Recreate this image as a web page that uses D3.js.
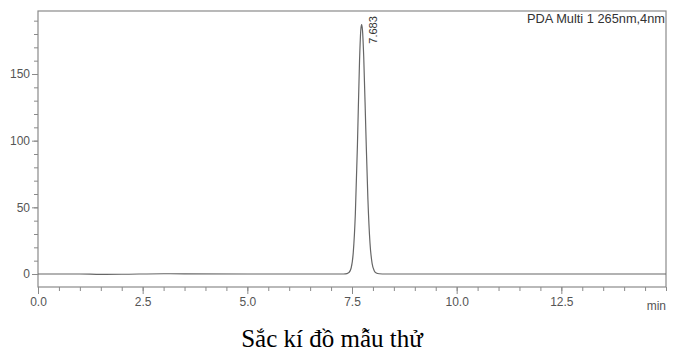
<!DOCTYPE html>
<html>
<head>
<meta charset="utf-8">
<script src="https://cdn.jsdelivr.net/npm/d3@7"></script>
<style>
body { margin: 0; background: #fff; }
</style>
</head>
<body>
<svg width="685" height="352"></svg>
<script>
// chromatogram (time in min, signal in mAU)
var times  = [0, 1.0, 1.5, 2.0, 3.0, 3.5, 5.0, 7.0, 7.30, 7.38, 7.43, 7.48, 7.53, 7.58, 7.63, 7.68, 7.71, 7.73, 7.75, 7.78, 7.83, 7.88, 7.93, 7.98, 8.03, 8.08, 8.15, 8.30, 9.0, 12.0, 15.0];
var signal = [0, 0, -0.3, -0.2, 0.2, 0.1, 0, 0, 0, 0.3, 1.2, 4.5, 16, 45, 97, 160, 183, 187, 183, 163, 108, 56, 23, 8, 2.5, 0.8, 0.2, 0, 0, 0, 0];
var peakTime = 7.73, peakHeight = 187, peakLabel = "7.683";
var xMajor = [0, 2.5, 5, 7.5, 10, 12.5];
var yMajor = [0, 50, 100, 150];
var detector = "PDA Multi 1 265nm,4nm";
var caption = "Sắc kí đồ mẫu thử";

var svg = d3.select("svg");
var plotL = 38, plotR = 666, plotT = 11, plotB = 287;

var x = d3.scaleLinear().domain([0, 15]).range([plotL, plotR]);
var y = d3.scaleLinear().domain([-9.75, 197.25]).range([plotB, plotT]);

var grey = "#8a8a8a", ink = "#555";

// frame
svg.append("rect")
   .attr("x", plotL).attr("y", plotT)
   .attr("width", plotR - plotL).attr("height", plotB - plotT)
   .attr("fill", "none").attr("stroke", grey).attr("stroke-width", 1.2);

// y axis: minor then major
var yMinor = d3.range(0, 200, 10);
svg.append("g")
   .attr("transform", "translate(" + plotL + ",0)")
   .call(d3.axisLeft(y).tickValues(yMinor).tickSize(4).tickFormat(""))
   .call(function(g){ g.select(".domain").remove(); g.selectAll("line").attr("stroke", grey); });
svg.append("g")
   .attr("transform", "translate(" + plotL + ",0)")
   .call(d3.axisLeft(y).tickValues(yMajor).tickSize(6).tickPadding(2).tickFormat(d3.format("d")))
   .call(function(g){
     g.select(".domain").remove();
     g.selectAll("line").attr("stroke", grey);
     g.selectAll("text").attr("fill", ink).style("font", "12px 'Liberation Sans', Arial, sans-serif");
   });

// x axis
var xMinor = d3.range(0, 15.01, 0.5);
svg.append("g")
   .attr("transform", "translate(0," + plotB + ")")
   .call(d3.axisBottom(x).tickValues(xMinor).tickSize(4).tickFormat(""))
   .call(function(g){ g.select(".domain").remove(); g.selectAll("line").attr("stroke", grey); });
svg.append("g")
   .attr("transform", "translate(0," + plotB + ")")
   .call(d3.axisBottom(x).tickValues(xMajor).tickSize(7).tickPadding(3).tickFormat(d3.format(".1f")))
   .call(function(g){
     g.select(".domain").remove();
     g.selectAll("line").attr("stroke", grey);
     g.selectAll("text").attr("fill", ink).style("font", "12px 'Liberation Sans', Arial, sans-serif");
   });

svg.append("text")
   .attr("x", plotR).attr("y", 310)
   .attr("text-anchor", "end")
   .attr("fill", ink)
   .style("font", "12px 'Liberation Sans', Arial, sans-serif")
   .text("min");

// trace
var line = d3.line()
   .x(function(d, i){ return x(times[i]); })
   .y(function(d){ return y(d); })
   .curve(d3.curveMonotoneX);

svg.append("path")
   .datum(signal)
   .attr("d", line)
   .attr("fill", "none")
   .attr("stroke", "#666")
   .attr("stroke-width", 1.2);

// retention time label
svg.append("text")
   .attr("transform", "translate(" + (x(peakTime) + 15) + "," + (y(peakHeight) + 19) + ") rotate(-90)")
   .attr("fill", "#333")
   .style("font", "11px 'Liberation Sans', Arial, sans-serif")
   .text(peakLabel);

// detector
svg.append("text")
   .attr("x", plotR - 1).attr("y", 23)
   .attr("text-anchor", "end")
   .attr("fill", "#333")
   .style("font", "12.8px 'Liberation Sans', Arial, sans-serif")
   .text(detector);

// caption
svg.append("text")
   .attr("x", 332).attr("y", 347)
   .attr("text-anchor", "middle")
   .attr("fill", "#000")
   .style("font", "25px 'Liberation Serif', 'Times New Roman', serif")
   .text(caption);
</script>
</body>
</html>
